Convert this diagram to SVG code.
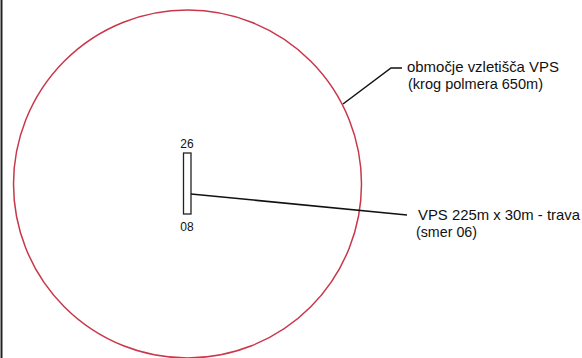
<svg xmlns="http://www.w3.org/2000/svg" width="582" height="358" viewBox="0 0 582 358">
<style>
text{font-family:"Liberation Sans",Arial,sans-serif;fill:#111}
.lbl{font-size:15px}
.rw{font-size:12px}
.lead{stroke:#111;stroke-width:1.5;fill:none}
</style>
<rect x="0" y="0" width="582" height="358" fill="#fff"/>
<line x1="1.5" y1="0" x2="1.5" y2="358" stroke="#222" stroke-width="2"/>
<g id="zone">
<circle cx="187.5" cy="184" r="174" fill="none" stroke="#c8374a" stroke-width="1.5"/>
</g>
<g id="runway">
<rect x="183.5" y="153" width="7.5" height="61" fill="#fff" stroke="#222" stroke-width="1.3"/>
<text class="rw" x="187" y="148" text-anchor="middle">26</text>
<text class="rw" x="187" y="231" text-anchor="middle">08</text>
</g>
<g id="connectors">
<polyline class="lead" points="343,104 391,68 402,68"/>
<line class="lead" x1="191" y1="194" x2="407" y2="215"/>
</g>
<g id="label-zone">
<text class="lbl" x="407" y="72" textLength="152" lengthAdjust="spacingAndGlyphs">območje vzletišča VPS</text>
<text class="lbl" x="408" y="88.5" textLength="135" lengthAdjust="spacingAndGlyphs">(krog polmera 650m)</text>
</g>
<g id="label-runway">
<text class="lbl" x="418" y="220" textLength="162" lengthAdjust="spacingAndGlyphs">VPS 225m x 30m - trava</text>
<text class="lbl" x="416" y="237" textLength="61" lengthAdjust="spacingAndGlyphs">(smer 06)</text>
</g>
</svg>
